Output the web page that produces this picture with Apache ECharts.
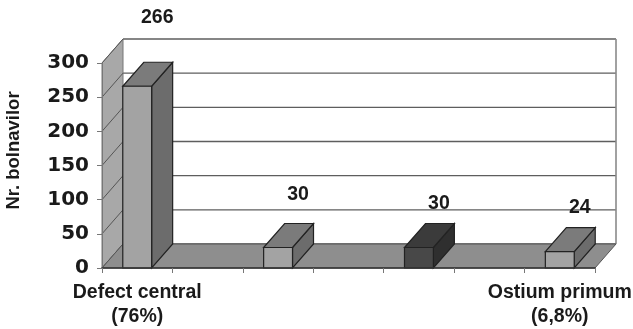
<!DOCTYPE html>
<html lang="ro">
<head>
<meta charset="utf-8">
<title>Nr. bolnavilor</title>
<script src="https://cdn.jsdelivr.net/npm/echarts@6/dist/echarts.min.js"></script>
<style>
  html, body { margin: 0; padding: 0; background: #fff; }
  #chart { width: 633px; height: 329px; }
</style>
</head>
<body>
<div id="chart"></div>
<script>
// date
var categories = ['Defect central\n(76%)', '', '', '', '', '', 'Ostium primum\n(6,8%)'];
var patients = [266, null, 30, null, 30, null, 24];
var yTicks = [0, 50, 100, 150, 200, 250, 300];

// adancimea "3D" a cutiei si a barelor, in pixeli
var DX = 21, DY = -24;
var FONT = 'DejaVu Sans';
var FONT2 = 'Liberation Sans';
var TXT = '#1a1a1a';
var SHADES = {
  light: { front: '#a3a3a3', top: '#7b7b7b', side: '#6c6c6c' },
  dark:  { front: '#484848', top: '#3b3b3b', side: '#2f2f2f' }
};
// ridicarea etichetelor deasupra barelor
var labelLift = { 0: 45, 2: 29 };

function renderBox(params, api) {
  var cs = params.coordSys;
  var x0 = cs.x, x1 = cs.x + cs.width, yt = cs.y, yb = cs.y + cs.height;
  var kids = [];
  //liniile de grila pe peretele din spate
  yTicks.forEach(function (t) {
    var y = api.coord([0, t])[1];
    kids.push({ type: 'line', shape: { x1: x0 + DX, y1: y + DY, x2: x1 + DX, y2: y + DY },
      style: { stroke: '#5e5e5e', lineWidth: 1.4 } });
  });
  kids.push({ type: 'line', shape: { x1: x1 + DX, y1: yt + DY, x2: x1 + DX, y2: yb + DY },
    style: { stroke: '#8a8a8a', lineWidth: 1.6 } });
  // peretele din stanga
  kids.push({ type: 'polygon', shape: { points: [[x0, yb], [x0, yt], [x0 + DX, yt + DY], [x0 + DX, yb + DY]] },
    style: { fill: '#a8a8a8', stroke: '#777', lineWidth: 1 } });
  yTicks.forEach(function (t) {
    var y = api.coord([0, t])[1];
    kids.push({ type: 'line', shape: { x1: x0, y1: y, x2: x0 + DX, y2: y + DY },
      style: { stroke: '#555', lineWidth: 1 } });
  });
  // podeaua
  kids.push({ type: 'polygon', shape: { points: [[x0, yb], [x1, yb], [x1 + DX, yb + DY], [x0 + DX, yb + DY]] },
    style: { fill: '#8e8e8e', stroke: '#555', lineWidth: 1 } });
  return { type: 'group', children: kids };
}

function renderBar(params, api) {
  var idx = api.value(0), val = api.value(1);
  var top = api.coord([idx, val]);
  var base = api.coord([idx, 0]);
  var w = api.size([1, 0])[0] * 0.41;
  var xl = top[0] - w / 2, xr = top[0] + w / 2, yt = top[1], yb = base[1];
  var sh = SHADES[idx === 4 ? 'dark' : 'light'];
  var edge = { stroke: '#222', lineWidth: 1.2 };
  var lift = labelLift[idx] || 20;
  return {
    type: 'group',
    children: [
      { type: 'polygon', shape: { points: [[xr, yb], [xr, yt], [xr + DX, yt + DY], [xr + DX, yb + DY]] },
        style: Object.assign({ fill: sh.side }, edge) },
      { type: 'polygon', shape: { points: [[xl, yt], [xr, yt], [xr + DX, yt + DY], [xl + DX, yt + DY]] },
        style: Object.assign({ fill: sh.top }, edge) },
      { type: 'rect', shape: { x: xl, y: yt, width: w, height: yb - yt },
        style: Object.assign({ fill: sh.front }, edge) },
      { type: 'text', x: top[0] + 20, y: yt + DY - lift,
        style: { text: String(val), fill: TXT, font: 'bold 19.5px "' + FONT2 + '"', align: 'center', verticalAlign: 'middle' } }
    ]
  };
}

var barData = [];
for (var i = 0; i < patients.length; i++) {
  if (patients[i] != null) barData.push([i, patients[i]]);
}

var myChart = echarts.init(document.getElementById('chart'));
var option = {
  animation: false,
  grid: { left: 102, right: 38, top: 63, bottom: 61, outerBoundsMode: 'none', containLabel: false },
  xAxis: {
    type: 'category',
    data: categories,
    z: 5,
    axisLine: { lineStyle: { color: '#333', width: 1.5 } },
    axisTick: { show: true, length: 5, lineStyle: { color: '#777' } },
    axisLabel: { interval: 0, color: TXT, fontFamily: FONT2, fontWeight: 'bold', fontSize: 19.5, lineHeight: 24, margin: 13 }
  },
  yAxis: {
    type: 'value',
    min: yTicks[0],
    max: yTicks[yTicks.length - 1],
    interval: 50,
    z: 5,
    name: 'Nr. bolnavilor',
    nameLocation: 'middle',
    nameGap: 79,
    nameTextStyle: { color: TXT, fontFamily: FONT2, fontWeight: 'bold', fontSize: 18.5, padding: [0, 0, 0, 30] },
    axisLine: { show: true, lineStyle: { color: '#777' } },
    axisTick: { show: true, length: 5, lineStyle: { color: '#777' } },
    axisLabel: { color: TXT, fontFamily: FONT, fontWeight: 'bold', fontSize: 20, margin: 13 },
    splitLine: { show: false }
  },
  series: [
    { type: 'custom', z: 1, silent: true, data: [[0, 0]], renderItem: renderBox },
    { type: 'custom', z: 3, data: barData, renderItem: renderBar }
  ]
};
myChart.setOption(option);
</script>
</body>
</html>
